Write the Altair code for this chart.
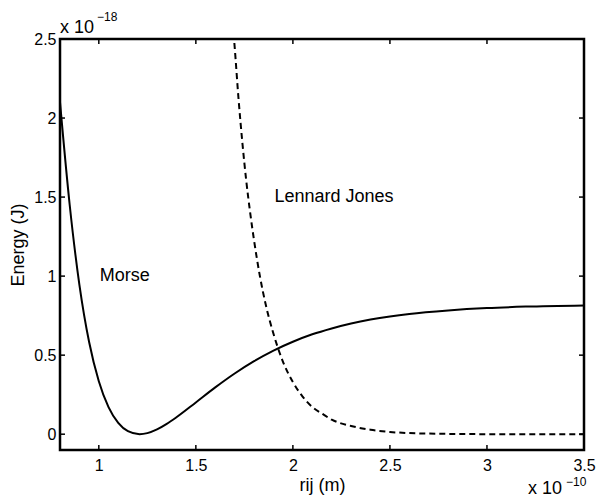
import altair as alt
import pandas as pd

# Morse potential (x in 1e-10 m, y in 1e-18 J)
morse_r = [0.80, 0.85, 0.90, 0.95, 1.00, 1.05, 1.10, 1.15, 1.21, 1.25, 1.30, 1.35, 1.40,
           1.50, 1.60, 1.70, 1.80, 1.90, 2.00, 2.10, 2.20, 2.30, 2.40, 2.50, 2.60,
           2.80, 3.00, 3.20, 3.50]
morse_e = [2.10, 1.45, 0.945, 0.583, 0.335, 0.171, 0.0715, 0.019, 0.0, 0.0066, 0.030, 0.065, 0.107,
           0.201, 0.296, 0.384, 0.462, 0.529, 0.585, 0.632, 0.669, 0.700, 0.725, 0.745, 0.761,
           0.783, 0.798, 0.807, 0.8145]

# Lennard Jones potential
lj_r = [1.69, 1.70, 1.72, 1.74, 1.76, 1.78, 1.80, 1.83, 1.86, 1.90, 1.95, 2.00, 2.05,
        2.10, 2.15, 2.20, 2.30, 2.40, 2.50, 2.60, 2.80, 3.00, 3.25, 3.50]
lj_e = [2.60, 2.45, 2.12, 1.84, 1.60, 1.40, 1.225, 1.0, 0.82, 0.635, 0.455, 0.33, 0.238,
        0.172, 0.13, 0.092, 0.052, 0.028, 0.014, 0.007, 0.002, 0.0, -0.001, -0.001]

x_ticks = [1, 1.5, 2, 2.5, 3, 3.5]
y_ticks = [0, 0.5, 1, 1.5, 2, 2.5]

labels_text = ["Morse", "Lennard Jones"]
labels_x = [1.005, 1.905]
labels_y = [1.0, 1.5]

W, H = 524, 411
FONT = "Liberation Sans"

morse_df = pd.DataFrame({"r": morse_r, "e": morse_e})
lj_df = pd.DataFrame({"r": lj_r, "e": lj_e})
xt_df = pd.DataFrame({"t": x_ticks})
yt_df = pd.DataFrame({"t": y_ticks})
lab_df = pd.DataFrame({"txt": labels_text, "r": labels_x, "e": labels_y})

xs = alt.Scale(domain=[0.8, 3.5], nice=False, zero=False)
ys = alt.Scale(domain=[-0.1, 2.5], nice=False, zero=False)

xaxis = alt.Axis(values=x_ticks, title="rij (m)", grid=False, ticks=False, domain=False,
                 labelFontSize=16, labelFont=FONT, labelColor="black", labelPadding=7,
                 titleFont=FONT, titleFontSize=18, titleFontWeight="normal", titleColor="black",
                 titlePadding=3, format="~g", labelFlush=False)
yaxis = alt.Axis(values=y_ticks, title="Energy (J)", grid=False, ticks=False, domain=False,
                 labelFontSize=16, labelFont=FONT, labelColor="black", labelPadding=4,
                 titleFont=FONT, titleFontSize=18, titleFontWeight="normal", titleColor="black",
                 titlePadding=6, format="~g", labelFlush=False)

morse = alt.Chart(morse_df).mark_line(color="black", strokeWidth=2, interpolate="monotone", clip=True).encode(
    x=alt.X("r:Q", scale=xs, axis=xaxis), y=alt.Y("e:Q", scale=ys, axis=yaxis))
lj = alt.Chart(lj_df).mark_line(color="black", strokeWidth=2, strokeDash=[6, 4], interpolate="monotone", clip=True).encode(
    x=alt.X("r:Q", scale=xs), y=alt.Y("e:Q", scale=ys))

labels = alt.Chart(lab_df).mark_text(align="left", baseline="middle", font=FONT, fontSize=18, color="black").encode(
    x=alt.X("r:Q", scale=xs), y=alt.Y("e:Q", scale=ys), text="txt:N")

xt_bot = alt.Chart(xt_df).mark_rule(color="black", strokeWidth=1.5).encode(
    x=alt.X("t:Q", scale=xs), y=alt.value(H), y2=alt.value(H - 5))
xt_top = alt.Chart(xt_df).mark_rule(color="black", strokeWidth=1.5).encode(
    x=alt.X("t:Q", scale=xs), y=alt.value(0), y2=alt.value(5))
yt_left = alt.Chart(yt_df).mark_rule(color="black", strokeWidth=1.5).encode(
    y=alt.Y("t:Q", scale=ys), x=alt.value(0), x2=alt.value(5))
yt_right = alt.Chart(yt_df).mark_rule(color="black", strokeWidth=1.5).encode(
    y=alt.Y("t:Q", scale=ys), x=alt.value(W), x2=alt.value(W - 5))

one = pd.DataFrame({"a": [0]})
exp_top = alt.Chart(one).mark_text(align="left", baseline="alphabetic", font=FONT,
                                   fontSize=18, color="black").encode(
    x=alt.value(0), y=alt.value(-6), text=alt.value("x 10"))
exp_top_sup = alt.Chart(one).mark_text(align="left", baseline="alphabetic", font=FONT,
                                       fontSize=12, color="black").encode(
    x=alt.value(37), y=alt.value(-18), text=alt.value("\u221218"))
exp_bot = alt.Chart(one).mark_text(align="left", baseline="alphabetic", font=FONT,
                                   fontSize=18, color="black").encode(
    x=alt.value(468), y=alt.value(455), text=alt.value("x 10"))
exp_bot_sup = alt.Chart(one).mark_text(align="left", baseline="alphabetic", font=FONT,
                                       fontSize=12, color="black").encode(
    x=alt.value(506), y=alt.value(447), text=alt.value("\u221210"))

chart = alt.layer(morse, lj, labels, xt_bot, xt_top, yt_left, yt_right,
                  exp_top, exp_top_sup, exp_bot, exp_bot_sup).properties(
    width=W, height=H,
    autosize=alt.AutoSizeParams(type="none"),
    padding={"left": 60, "top": 39, "right": 15, "bottom": 49},
    background="white",
).configure_view(stroke="black", strokeWidth=2.5)

chart.save("out.html", embed_options={"renderer": "svg", "actions": False})
